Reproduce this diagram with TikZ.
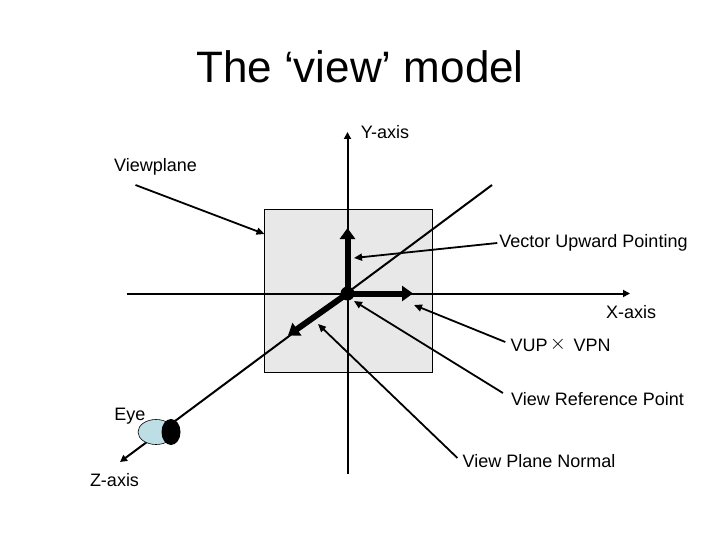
\documentclass[tikz,border=0pt]{standalone}
\usepackage{fontspec}
\setmainfont{Liberation Sans}
\usepackage{tikz}
\usetikzlibrary{arrows.meta}
\usetikzlibrary{shapes.geometric}
\definecolor{pp}{RGB}{232,232,232}
\definecolor{ee}{RGB}{190,222,230}
\tikzset{
	lbl/.style={font=\fontsize{18}{20}\selectfont, inner sep=0pt},
	axisline/.style={line width=2pt, -{Triangle[length=7pt,width=7pt]}},
	thickvec/.style={line width=6pt, -{Triangle[length=11pt,width=15pt]}},
	pointer/.style={line width=1.8pt, -{Triangle[length=8pt,width=7pt]}}
}
\begin{document}
\begin{tikzpicture}[x=1pt,y=-1pt]
	\useasboundingbox (0,0) rectangle (720,540);
	\node[font=\fontsize{44}{48}\selectfont, inner sep=0pt] (title) at (360,67) {The ‘view’ model};
	\filldraw [fill=pp, draw=black, line width=1pt](264.5,210) rectangle (432.5,372.5);
	\coordinate (ybot) at (347.5,474);
	\coordinate (ytop) at (347.5,132);
	\coordinate (xlft) at (127,293.5);
	\coordinate (xrgt) at (630,293.5);
	\coordinate (zbck) at (492,185);
	\coordinate (zfrt) at (120,462);
	\draw [axisline] (ybot)--(ytop);
	\draw [axisline] (xlft)--(xrgt);
	\draw [axisline] (zbck)--(zfrt);
	\node[circle, fill=black, inner sep=0pt, minimum size=14pt] (vrp) at (347.5,293.5) {};
	\coordinate (vup) at (347.5,228);
	\coordinate (vrt) at (413,293.5);
	\coordinate (vpn) at (288,335.5);
	\draw [thickvec] (vrp.center)--(vup);
	\draw [thickvec] (vrp.center)--(vrt);
	\draw [thickvec] (vrp.center)--(vpn);
	\node[ellipse, draw=black, fill=ee, line width=0.6pt, minimum width=36pt, minimum height=25pt, inner sep=0pt] (eyeball) at (156,432) {};
	\node[ellipse, fill=black, minimum width=19pt, minimum height=26pt, inner sep=0pt] (pupil) at (171,432) {};
	\node[lbl] (yaxis) at (385,132) {Y-axis};
	\node[lbl] (viewplane) at (155.5,167) {Viewplane};
	\node[lbl] (vector) at (593.5,243) {Vector Upward Pointing};
	\node[lbl] (xaxis) at (631,312) {X-axis};
	\node[lbl] (vuplbl) at (529,345) {VUP};
	\node[lbl, font=\fontsize{20}{20}\selectfont] (cross) at (558,344) {$\times$};
	\node[lbl] (vpnlbl) at (592,345) {VPN};
	\node[lbl] (vreflbl) at (597.5,399) {View Reference Point};
	\node[lbl] (eye) at (130,416) {Eye};
	\node[lbl] (zaxis) at (114.5,480) {Z-axis};
	\node[lbl] (normal) at (539,461) {View Plane Normal};
	\coordinate (planept) at (264.5,234);
	\coordinate (vecpt) at (354,258);
	\coordinate (xpt) at (414,305);
	\coordinate (refpt) at (354,301);
	\coordinate (normpt) at (318,324);
	\draw [pointer] ([xshift=-20pt,yshift=-18pt]viewplane.center)--(planept);
	\draw [pointer] ([xshift=-2pt]vector.west)--(vecpt);
	\draw [pointer] ([xshift=-5pt,yshift=3pt]vuplbl.west)--(xpt);
	\draw [pointer] ([xshift=-8pt,yshift=6pt]vreflbl.west)--(refpt);
	\draw [pointer] ([xshift=-5pt,yshift=3pt]normal.west)--(normpt);
\end{tikzpicture}
\end{document}
